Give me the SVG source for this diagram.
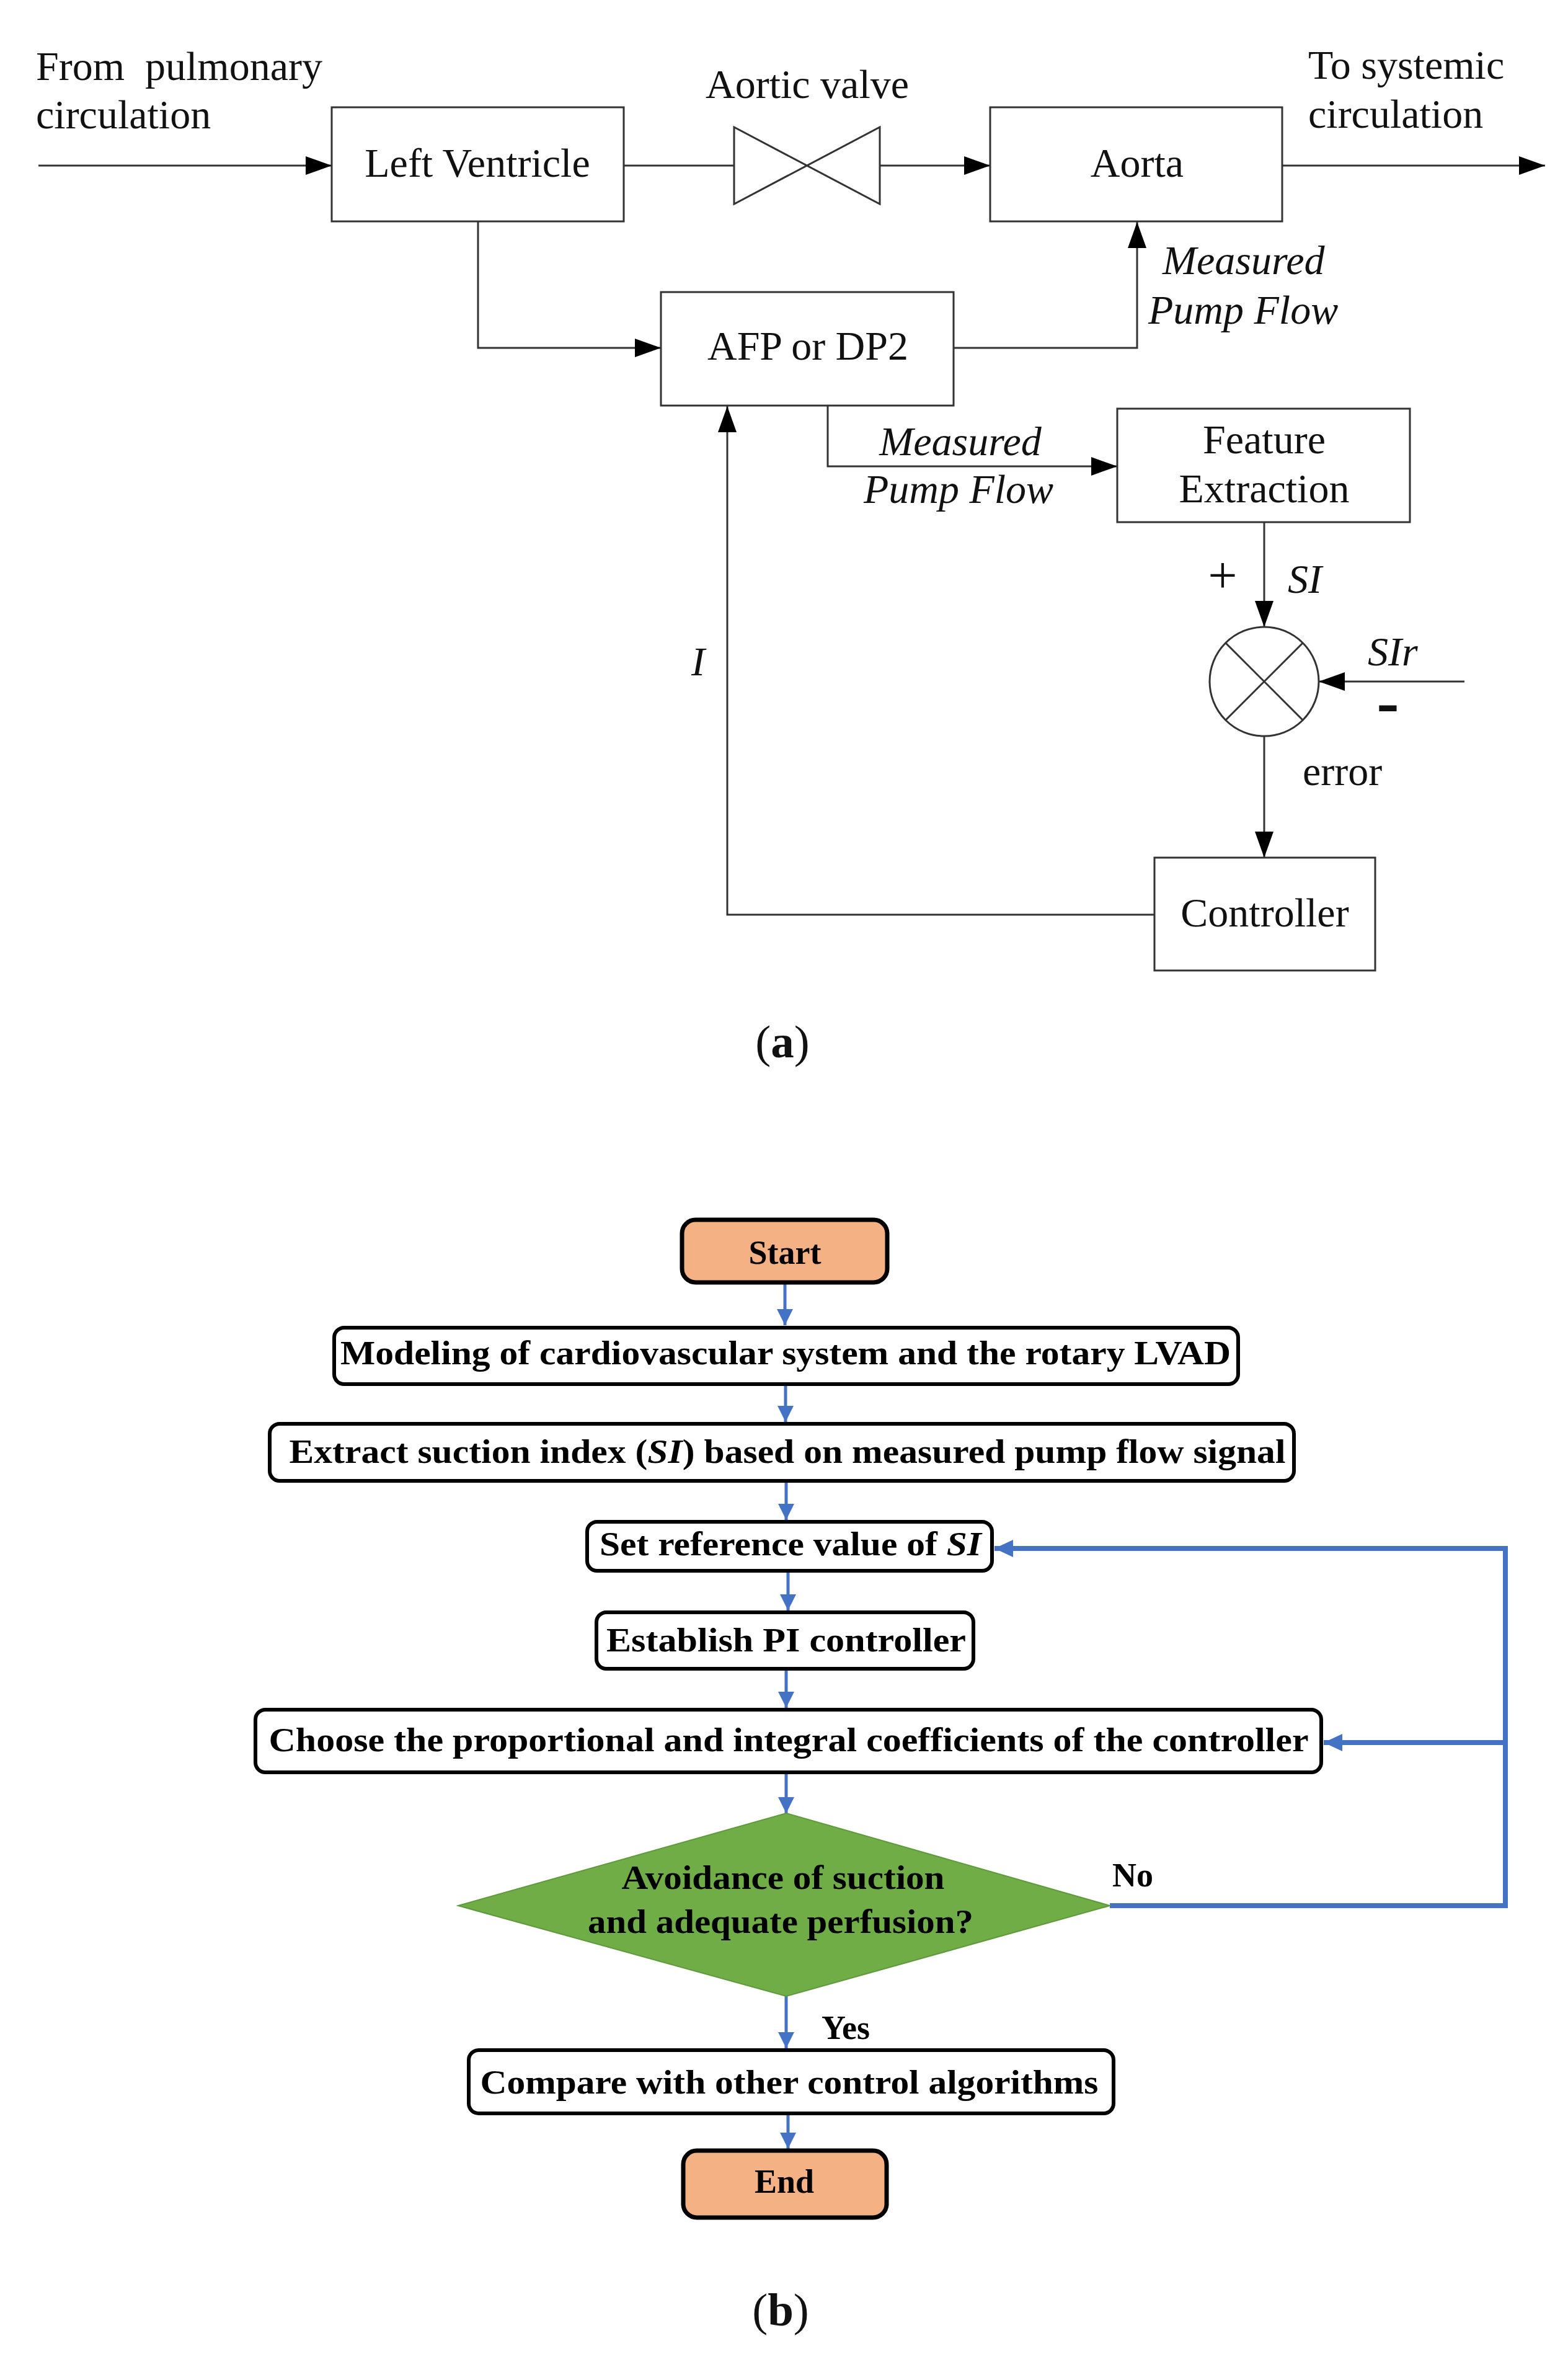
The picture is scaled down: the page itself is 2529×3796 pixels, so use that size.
<svg xmlns="http://www.w3.org/2000/svg" width="2529" height="3796" viewBox="0 0 2529 3796">
<defs>
<style>
.t{font-family:"Liberation Serif","Times New Roman",serif;font-size:66px;fill:#111}
.ti{font-family:"Liberation Serif","Times New Roman",serif;font-size:66px;font-style:italic;fill:#111}
.box{fill:#fff;stroke:#333;stroke-width:3}
.ln{fill:none;stroke:#333;stroke-width:3}
.fb{fill:#fff;stroke:#000;stroke-width:6}
.term{fill:#F4B183;stroke:#000;stroke-width:7}
.ft{font-family:"Liberation Serif","Times New Roman",serif;font-size:54px;font-weight:bold;fill:#000}
.bl{fill:none;stroke:#4472C4;stroke-width:5}
.bl2{fill:none;stroke:#4472C4;stroke-width:8}
</style>
<marker id="ak" markerUnits="userSpaceOnUse" markerWidth="42" markerHeight="30" refX="42" refY="15" orient="auto"><path d="M0,0 L42,15 L0,30 Z" fill="#000"/></marker>
<marker id="ab" markerUnits="userSpaceOnUse" markerWidth="26" markerHeight="26" refX="26" refY="13" orient="auto"><path d="M0,0 L26,13 L0,26 Z" fill="#4472C4"/></marker>
<marker id="ab2" markerUnits="userSpaceOnUse" markerWidth="30" markerHeight="28" refX="30" refY="14" orient="auto"><path d="M0,0 L30,14 L0,28 Z" fill="#4472C4"/></marker>
</defs>
<rect width="2529" height="3796" fill="#fff"/>

<!-- (a) block diagram -->
<g id="connectors-a">
<path class="ln" d="M62,267 H535" marker-end="url(#ak)"/>
<path class="ln" d="M1006,267 H1184"/>
<path class="ln" d="M1419,267 H1597" marker-end="url(#ak)"/>
<path class="ln" d="M2068,267 H2492" marker-end="url(#ak)"/>
<path class="ln" d="M771,357 V561 H1066" marker-end="url(#ak)"/>
<path class="ln" d="M1538,561 H1834 V358" marker-end="url(#ak)"/>
<path class="ln" d="M1335,654 V752 H1802" marker-end="url(#ak)"/>
<path class="ln" d="M2039,842 V1011" marker-end="url(#ak)"/>
<path class="ln" d="M2362,1099 H2127" marker-end="url(#ak)"/>
<path class="ln" d="M2039,1187 V1383" marker-end="url(#ak)"/>
<path class="ln" d="M1862,1475 H1173 V655" marker-end="url(#ak)"/>
</g>

<text class="t" x="58" y="129" xml:space="preserve">From  pulmonary</text>
<text class="t" x="58" y="207">circulation</text>
<text class="t" x="1138" y="158">Aortic valve</text>
<text class="t" x="2110" y="127">To systemic</text>
<text class="t" x="2110" y="206">circulation</text>

<g id="left-ventricle">
<rect class="box" x="535" y="173" width="471" height="184"/>
<text class="t" x="770" y="285" text-anchor="middle">Left Ventricle</text>
</g>
<g id="aortic-valve">
<path class="ln" d="M1184,205 L1419,329 L1419,205 L1184,329 Z"/>
</g>
<g id="aorta">
<rect class="box" x="1597" y="173" width="471" height="184"/>
<text class="t" x="1834" y="285" text-anchor="middle">Aorta</text>
</g>
<g id="afp">
<rect class="box" x="1066" y="471" width="472" height="183"/>
<text class="t" x="1303" y="580" text-anchor="middle">AFP or DP2</text>
</g>
<text class="ti" x="1875" y="442">Measured</text>
<text class="ti" x="1852" y="522">Pump Flow</text>
<text class="ti" x="1549" y="734" text-anchor="middle">Measured</text>
<text class="ti" x="1546" y="811" text-anchor="middle">Pump Flow</text>
<g id="feature-extraction">
<rect class="box" x="1802" y="659" width="472" height="183"/>
<text class="t" x="2039" y="731" text-anchor="middle">Feature</text>
<text class="t" x="2039" y="810" text-anchor="middle">Extraction</text>
</g>
<text class="t" x="1972" y="956" text-anchor="middle" style="font-size:84px">+</text>
<text class="ti" x="2077" y="956">SI</text>
<g id="sum">
<circle cx="2039" cy="1099" r="88" fill="#fff" stroke="#333" stroke-width="3"/>
<path class="ln" d="M1977,1037 L2101,1161 M2101,1037 L1977,1161"/>
</g>
<text class="ti" x="2206" y="1073">SIr</text>
<text x="2220" y="1163" textLength="37" lengthAdjust="spacingAndGlyphs" style="font-family:'Liberation Sans',Arial,sans-serif;font-weight:bold;font-size:80px;fill:#111">-</text>
<text class="t" x="2101" y="1266">error</text>
<g id="controller">
<rect class="box" x="1862" y="1383" width="356" height="182"/>
<text class="t" x="2040" y="1494" text-anchor="middle">Controller</text>
</g>
<text class="ti" x="1115" y="1089">I</text>
<text class="t" x="1262" y="1705" text-anchor="middle" style="font-size:75px">(<tspan font-weight="bold">a</tspan>)</text>

<!-- (b) flowchart -->
<g id="connectors-b">
<path class="bl" d="M1266,2071 V2137" marker-end="url(#ab)"/>
<path class="bl" d="M1267,2235 V2293" marker-end="url(#ab)"/>
<path class="bl" d="M1268,2391 V2451" marker-end="url(#ab)"/>
<path class="bl" d="M1271,2536 V2597" marker-end="url(#ab)"/>
<path class="bl" d="M1268,2694 V2754" marker-end="url(#ab)"/>
<path class="bl" d="M1268,2861 V2924" marker-end="url(#ab)"/>
<path class="bl" d="M1268,3219 V3303" marker-end="url(#ab)"/>
<path class="bl" d="M1271,3411 V3465" marker-end="url(#ab)"/>
<path class="bl2" d="M1790,3073 H2428 V2497 H1604" marker-end="url(#ab2)"/>
<path class="bl2" d="M2428,2810 H2135" marker-end="url(#ab2)"/>
</g>

<g id="start">
<rect class="term" x="1100" y="1967" width="331" height="101" rx="22"/>
<text class="ft" x="1266" y="2038" text-anchor="middle">Start</text>
</g>
<g id="modeling">
<rect class="fb" x="539" y="2141" width="1458" height="91" rx="16"/>
<text class="ft" x="1267" y="2200" text-anchor="middle" textLength="1436" lengthAdjust="spacingAndGlyphs">Modeling of cardiovascular system and the rotary LVAD</text>
</g>
<g id="extract">
<rect class="fb" x="435" y="2296" width="1652" height="92" rx="16"/>
<text class="ft" x="1270" y="2359" text-anchor="middle" textLength="1607" lengthAdjust="spacingAndGlyphs">Extract suction index (<tspan font-style="italic">SI</tspan>) based on measured pump flow signal</text>
</g>
<g id="set-reference">
<rect class="fb" x="947" y="2454" width="653" height="79" rx="16"/>
<text class="ft" x="1275" y="2508" text-anchor="middle" textLength="616" lengthAdjust="spacingAndGlyphs">Set reference value of <tspan font-style="italic">SI</tspan></text>
</g>
<g id="establish">
<rect class="fb" x="962" y="2600" width="608" height="91" rx="16"/>
<text class="ft" x="1268" y="2663" text-anchor="middle" textLength="580" lengthAdjust="spacingAndGlyphs">Establish PI controller</text>
</g>
<g id="choose">
<rect class="fb" x="412" y="2757" width="1719" height="101" rx="16"/>
<text class="ft" x="1272" y="2824" text-anchor="middle" textLength="1677" lengthAdjust="spacingAndGlyphs">Choose the proportional and integral coefficients of the controller</text>
</g>
<g id="decision">
<path d="M1268,2924 L1790,3073 L1268,3219 L739,3073 Z" fill="#70AD47" stroke="#5E9A3A" stroke-width="2"/>
<text class="ft" x="1263" y="3046" text-anchor="middle" textLength="521" lengthAdjust="spacingAndGlyphs">Avoidance of suction</text>
<text class="ft" x="1259" y="3117" text-anchor="middle" textLength="622" lengthAdjust="spacingAndGlyphs">and adequate perfusion?</text>
</g>
<text class="ft" x="1794" y="3042">No</text>
<text class="ft" x="1325" y="3288">Yes</text>
<g id="compare">
<rect class="fb" x="756" y="3306" width="1040" height="102" rx="16"/>
<text class="ft" x="1273" y="3376" text-anchor="middle" textLength="997" lengthAdjust="spacingAndGlyphs">Compare with other control algorithms</text>
</g>
<g id="end">
<rect class="term" x="1102" y="3468" width="328" height="108" rx="22"/>
<text class="ft" x="1265" y="3536" text-anchor="middle">End</text>
</g>
<text class="t" x="1259" y="3750" text-anchor="middle" style="font-size:75px">(<tspan font-weight="bold">b</tspan>)</text>
</svg>
